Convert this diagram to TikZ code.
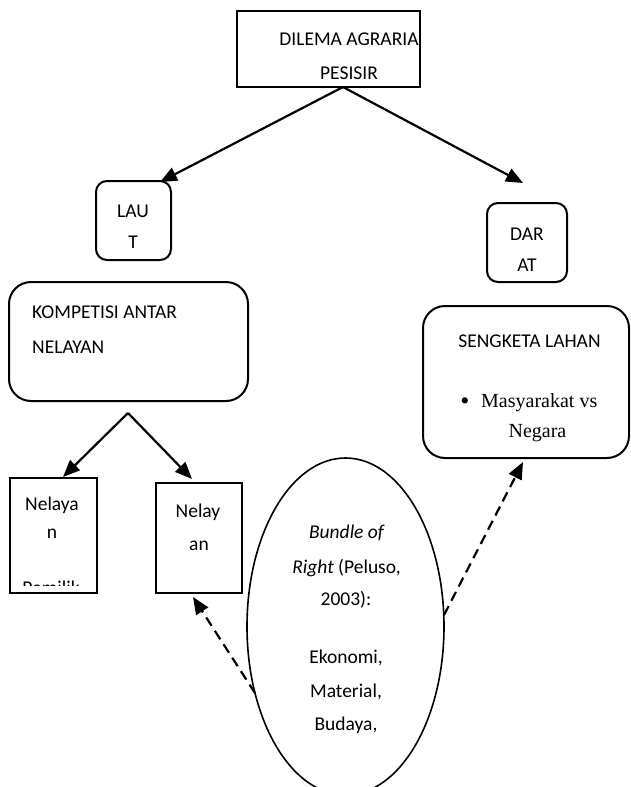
\documentclass[tikz,border=0pt]{standalone}
\usepackage{fontspec}
\setmainfont{Carlito}
\newfontfamily\timesf{Liberation Serif}
\usetikzlibrary{shapes.geometric,arrows.meta}
\begin{document}
\begin{tikzpicture}[x=1pt,y=-1pt,
  box/.style={draw,line width=2pt,inner sep=0pt,minimum width=#1},
  txt/.style={anchor=base,inner sep=0pt,font=\fontsize{19.5}{24}\selectfont},
  txtw/.style={txt,anchor=base west},
  ser/.style={anchor=base,inner sep=0pt,font=\timesf\fontsize{20}{24}\selectfont},
  arr/.style={line width=2.2pt,-{Triangle[length=17pt,width=14pt]}},
  darr/.style={arr,dash pattern=on 10pt off 6pt}
]
\useasboundingbox (0,0) rectangle (631,787);
\clip (0,0) rectangle (631,787);
% boxes
\node[box=183pt,minimum height=76pt] (top) at (328.5,49) {};
\node[box=75pt,minimum height=79pt,rounded corners=11pt] (laut) at (133.5,220.5) {};
\node[box=239pt,minimum height=119pt,rounded corners=22pt] (komp) at (128.5,341.5) {};
\node[box=80pt,minimum height=79pt,rounded corners=11pt] (darat) at (527,242.5) {};
\node[box=206pt,minimum height=152pt,rounded corners=22pt] (seng) at (526,382) {};
\node[box=87pt,minimum height=115pt] (nel1) at (53.5,535.5) {};
\node[box=86pt,minimum height=110pt] (nel2) at (199,538) {};
\node[draw,ellipse,line width=1.6pt,inner sep=0pt,minimum width=197pt,minimum height=337pt] (bor) at (345.5,626.5) {};
% texts
\node[txt] (t1) at (349,45) {DILEMA AGRARIA};
\node[txt] (t2) at (349,79) {PESISIR};
\node[txt] (l1) at (133,217) {LAU};
\node[txt] (l2) at (133,248) {T};
\node[txtw] (k1) at (32,318) {KOMPETISI ANTAR};
\node[txtw] (k2) at (32,353) {NELAYAN};
\node[txt] (d1) at (527,240) {DAR};
\node[txt] (d2) at (527,271) {AT};
\node[txt] (s1) at (529.5,347) {SENGKETA LAHAN};
\node[ser,font=\timesf\fontsize{26}{24}\selectfont] (s2) at (465,409) {•};
\node[ser,anchor=base west] (s3) at (481,407) {Masyarakat vs};
\node[ser] (s4) at (537.5,437) {Negara};
\node[txt] (n1) at (52,510) {Nelaya};
\node[txt] (n2) at (52,538) {n};
\begin{scope}
\clip (12,480) rectangle (95,585);
\node[txt] (n3) at (51,594) {Pemilik};
\end{scope}
\node[txt] (m1) at (198,517) {Nelay};
\node[txt] (m2) at (199,550) {an};
\node[txt] (b1) at (346.5,538) {\itshape Bundle of};
\node[txt] (b2) at (346.5,573) {\textit{Right} (Peluso,};
\node[txt] (b3) at (346,605) {2003):};
\node[txt] (b4) at (346,663) {Ekonomi,};
\node[txt] (b5) at (346,697) {Material,};
\node[txt] (b6) at (346,730) {Budaya,};
% connector ends
\coordinate (apexT) at (343,87);
\coordinate (tipL) at (160,182);
\coordinate (tipD) at (523,183);
\coordinate (apexK) at (128,413);
\coordinate (tipN1) at (63,477);
\coordinate (tipN2) at (192,479);
\coordinate (bl) at (255,693);
\coordinate (tipB1) at (193,597);
\coordinate (br) at (444,615);
\coordinate (tipB2) at (523,462);
\draw[arr] (apexT) -- (tipL);
\draw[arr] (apexT) -- (tipD);
\draw[arr] (apexK) -- (tipN1);
\draw[arr] (apexK) -- (tipN2);
\draw[darr] (bl) -- (tipB1);
\draw[darr] (br) -- (tipB2);
\end{tikzpicture}
\end{document}
